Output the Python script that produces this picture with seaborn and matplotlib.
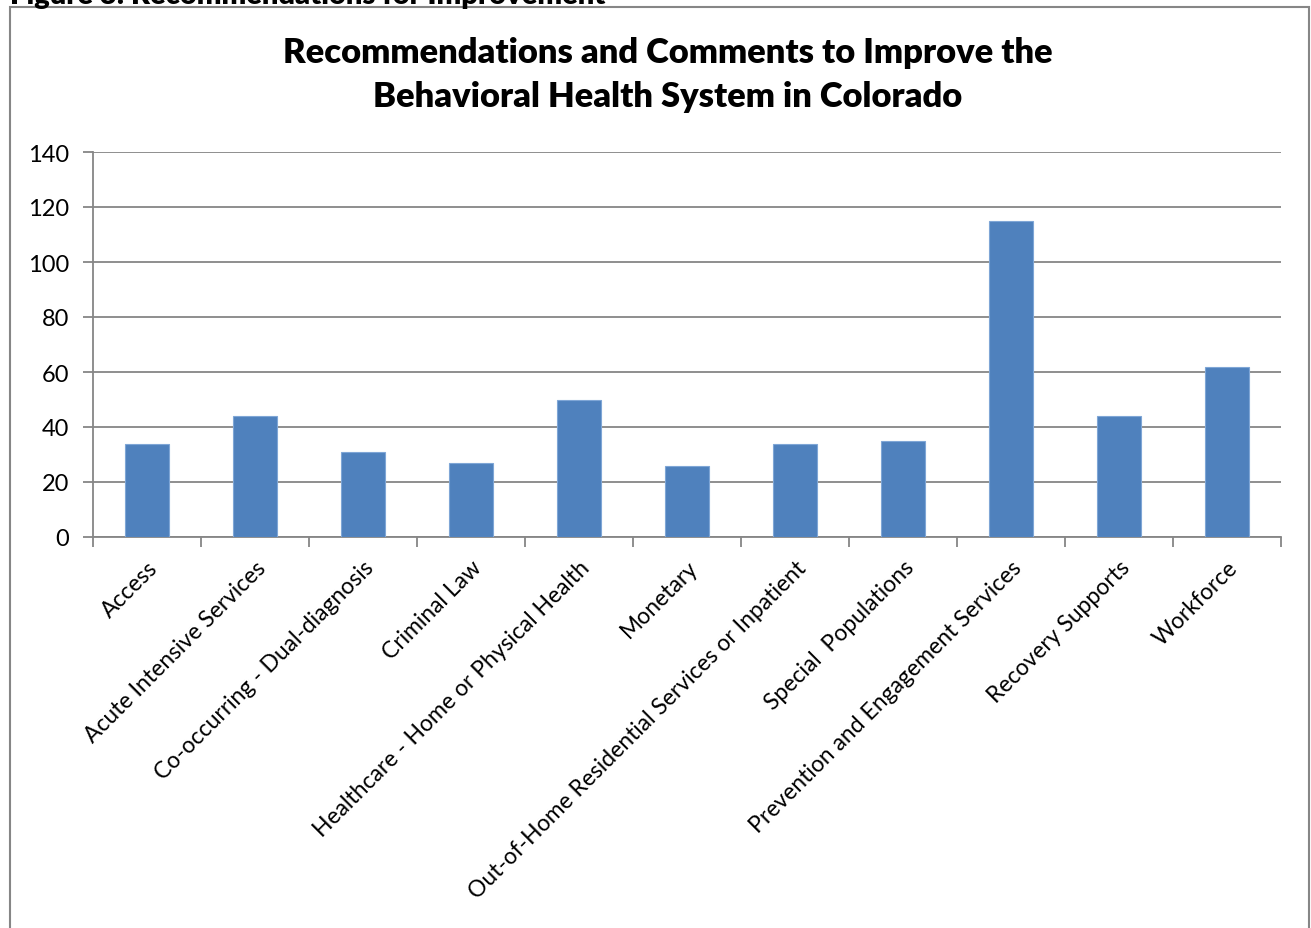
import matplotlib
matplotlib.use("Agg")
import matplotlib.pyplot as plt
import seaborn as sns
import numpy as np
from matplotlib.patches import Rectangle
from matplotlib.ticker import FixedLocator

categories = [
    "Access",
    "Acute Intensive Services",
    "Co-occurring - Dual-diagnosis",
    "Criminal Law",
    "Healthcare - Home or Physical Health",
    "Monetary",
    "Out-of-Home Residential Services or Inpatient",
    "Special  Populations",
    "Prevention and Engagement Services",
    "Recovery Supports",
    "Workforce",
]
values = [34, 44, 31, 27, 50, 26, 34, 35, 115, 44, 62]
yticks = [0, 20, 40, 60, 80, 100, 120, 140]

sns.set_theme(style="white")
plt.rcParams["font.family"] = ["Lato", "DejaVu Sans"]

W, H = 1311, 929
fig = plt.figure(figsize=(W / 100, H / 100), dpi=100)
ax = fig.add_axes([93 / W, 1 - 538 / H, (1281 - 93) / W, (538 - 153) / H])

sns.barplot(x=categories, y=values, color="#4F81BD", width=0.4, ax=ax,
            saturation=1, edgecolor="#7FA6D6", linewidth=0.8, zorder=3)

ax.set_xlim(-0.5, len(categories) - 0.5)
ax.set_ylim(0, 140)
ax.set_yticks(yticks)
ax.set_yticklabels([str(t) for t in yticks], fontsize=17, color="black")
ax.yaxis.grid(True, color="#868686", linewidth=1.3, zorder=0)
ax.set_axisbelow(True)

for s in ["top", "right"]:
    ax.spines[s].set_visible(False)
for s in ["left", "bottom"]:
    ax.spines[s].set_color("#868686")
    ax.spines[s].set_linewidth(1.3)

ax.tick_params(axis="y", which="major", length=7, width=1.3, color="#868686",
               direction="out", left=True, pad=10)
ax.set_xticks(range(len(categories)))
ax.set_xticklabels(categories, rotation=45, ha="right", va="top",
                   rotation_mode="anchor", fontsize=16.5, color="black")
ax.tick_params(axis="x", which="major", length=0, pad=14)
ax.xaxis.set_minor_locator(FixedLocator(np.arange(-0.5, len(categories), 1.0)))
ax.tick_params(axis="x", which="minor", length=7, width=1.3, color="#868686",
               direction="out", bottom=True)
ax.set_xlabel("")
ax.set_ylabel("")

fig.text(668 / W, 1 - 75 / H,
         "Recommendations and Comments to Improve the\nBehavioral Health System in Colorado",
         ha="center", va="center", fontsize=24.8, fontweight="heavy",
         linespacing=1.45, color="black")

fig.text(10 / W, 1 - 4 / H, "Figure 3: Recommendations for Improvement",
         ha="left", va="baseline", fontsize=21, fontweight="heavy", color="black")

fig.patches.append(Rectangle((10 / W, -0.05), (1309 - 10) / W, 1 - 8 / H + 0.05,
                             transform=fig.transFigure, fill=False,
                             edgecolor="#868686", linewidth=1.5))

fig.savefig("out.png", dpi=100)
